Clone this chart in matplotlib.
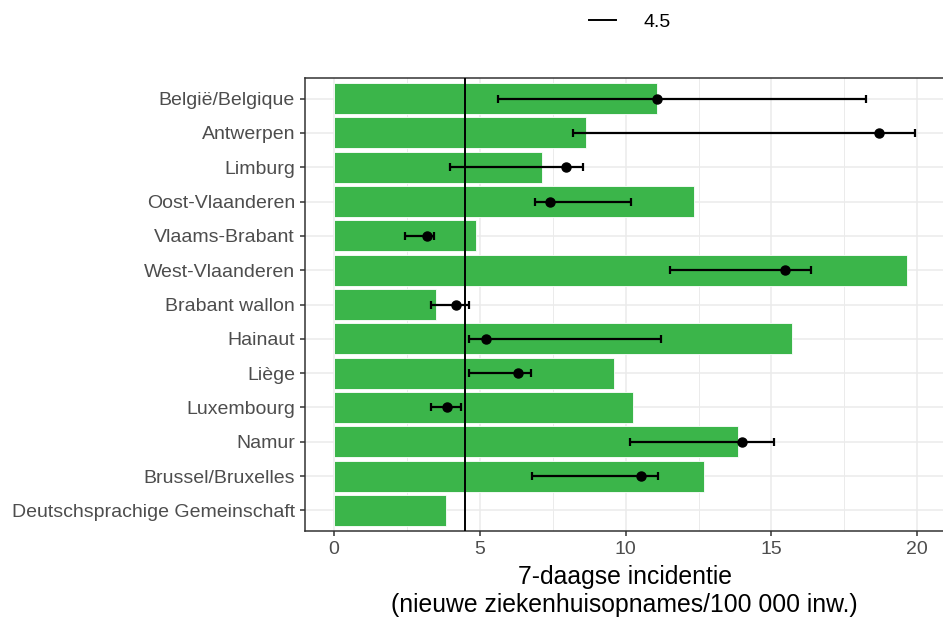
import matplotlib
matplotlib.use("Agg")
import matplotlib.pyplot as plt
from matplotlib.lines import Line2D
import numpy as np

plt.rcParams['font.family'] = ['Liberation Sans', 'DejaVu Sans']

provincies = ['België/Belgique', 'Antwerpen', 'Limburg', 'Oost-Vlaanderen',
              'Vlaams-Brabant', 'West-Vlaanderen', 'Brabant wallon', 'Hainaut',
              'Liège', 'Luxembourg', 'Namur', 'Brussel/Bruxelles',
              'Deutschsprachige Gemeinschaft']
incidentie = [11.09, 8.63, 7.14, 12.35, 4.86, 19.65, 3.49, 15.69,
              9.61, 10.26, 13.84, 12.68, 3.84]
punt = [11.08, 18.69, 7.95, 7.42, 3.18, 15.47, 4.19, 5.20,
        6.32, 3.89, 14.00, 10.54, np.nan]
onder = [5.62, 8.21, 3.99, 6.89, 2.45, 11.52, 3.32, 4.62,
         4.62, 3.33, 10.16, 6.79, np.nan]
boven = [18.23, 19.92, 8.52, 10.19, 3.44, 16.37, 4.62, 11.20,
         6.75, 4.36, 15.07, 11.12, np.nan]
drempel = 4.5

W, H = 943, 619
fig = plt.figure(figsize=(W / 100, H / 100), dpi=100)
left, right, top, bottom = 305, 944, 78, 531
ax = fig.add_axes([left / W, 1 - bottom / H, (right - left) / W, (bottom - top) / H])

y = np.arange(len(provincies))
punt = np.array(punt)
onder = np.array(onder)
boven = np.array(boven)

ax.barh(y, incidentie, height=0.9, color='#3BB54A', edgecolor='white',
        linewidth=0.6, zorder=2)
ok = ~np.isnan(punt)
ax.errorbar(punt[ok], y[ok], xerr=[punt[ok] - onder[ok], boven[ok] - punt[ok]],
            fmt='o', color='black', markersize=6.5, elinewidth=1.6,
            capsize=3.0, capthick=1.6, zorder=4)
ax.axvline(drempel, color='black', linewidth=1.4, zorder=3)

xmax = np.nanmax(np.concatenate([incidentie, boven]))
ax.set_xlim(-0.05 * xmax, 1.05 * xmax)
ax.set_ylim(len(provincies) - 0.4, -0.6)
ax.set_yticks(y)
ax.set_yticklabels(provincies)
ax.set_xticks([0, 5, 10, 15, 20])
ax.set_xticks([2.5, 7.5, 12.5, 17.5], minor=True)

ax.grid(True, which='major', color='#EBEBEB', linewidth=1.1, zorder=0)
ax.grid(True, which='minor', axis='x', color='#EBEBEB', linewidth=0.7, zorder=0)
ax.set_axisbelow(True)
for s in ['left', 'bottom', 'top']:
    ax.spines[s].set_color('#333333')
    ax.spines[s].set_linewidth(1.1)
ax.spines['right'].set_visible(False)
ax.tick_params(axis='both', which='major', colors='#333333', labelcolor='#4D4D4D',
               labelsize=14, length=3.7, width=1.1)
ax.tick_params(axis='x', which='minor', length=0)

ax.set_xlabel('7-daagse incidentie\n(nieuwe ziekenhuisopnames/100 000 inw.)',
              fontsize=17.8, color='black', labelpad=5, linespacing=1.2)

handle = Line2D([], [], color='black', linewidth=1.4)
fig.legend([handle], ['4.5'], loc='center', bbox_to_anchor=(630 / W, 1 - 22 / H),
           frameon=False, fontsize=14, handlelength=1.4, handletextpad=1.4)

fig.savefig('out.png', dpi=100)
